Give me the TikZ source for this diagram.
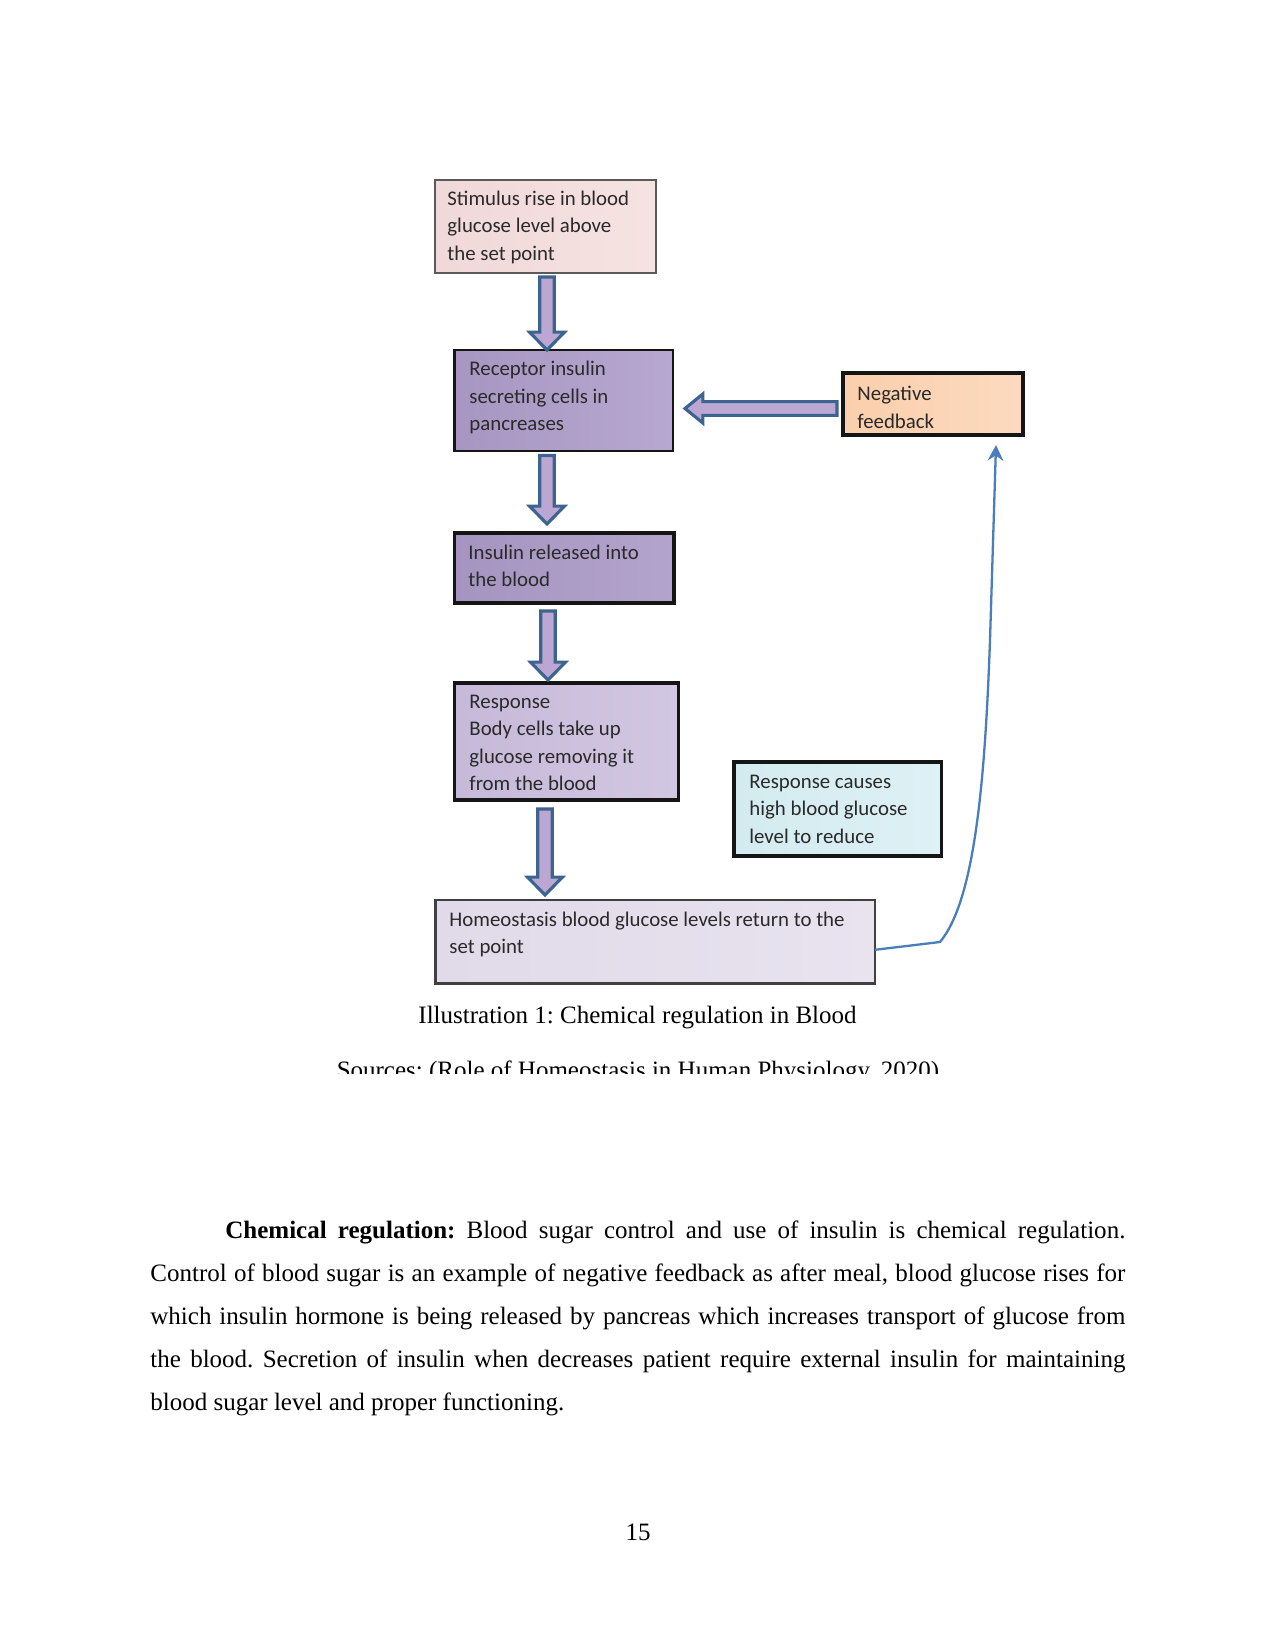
\documentclass[tikz,border=0pt]{standalone}
\usepackage{fontspec}
\setmainfont{Liberation Serif}
\newfontfamily\boxfont{Carlito}
\usetikzlibrary{calc,arrows.meta}
\frenchspacing
\definecolor{stimL}{HTML}{F0D9D8}\definecolor{stimR}{HTML}{F5E3E2}
\definecolor{recL}{HTML}{A696C1}\definecolor{recR}{HTML}{B7A8D1}
\definecolor{negL}{HTML}{FACFAC}\definecolor{negR}{HTML}{FCDABF}
\definecolor{insL}{HTML}{A494BF}\definecolor{insR}{HTML}{B3A4CD}
\definecolor{respL}{HTML}{C6B9D9}\definecolor{respR}{HTML}{D2C7E2}
\definecolor{causeL}{HTML}{D3EBF0}\definecolor{causeR}{HTML}{DEF1F5}
\definecolor{homeL}{HTML}{E1DAE9}\definecolor{homeR}{HTML}{E8E3EF}
\definecolor{arrowfill}{HTML}{BBA7D2}
\definecolor{arrowline}{HTML}{3D6491}
\definecolor{fbline}{HTML}{4A7EBB}
\definecolor{boxtext}{HTML}{2A2A2A}
\definecolor{stimdraw}{HTML}{5A5A5A}
\definecolor{homedraw}{HTML}{404040}
\definecolor{boxdraw}{HTML}{151515}
\newcommand\downblock[2]{\path[barrow] let \p1=(#1), \p2=(#2) in
  (\x1-3.5pt,\y1) -- (\x1+3.5pt,\y1) -- (\x1+3.5pt,\y2+8.6pt) -- (\x1+8.4pt,\y2+8.6pt)
  -- (\x1,\y2) -- (\x1-8.4pt,\y2+8.6pt) -- (\x1-3.5pt,\y2+8.6pt) -- cycle;}
\newcommand\leftblock[2]{\path[barrow] let \p1=(#1), \p2=(#2) in
  (\x1,\y1+3.3pt) -- (\x2+8.6pt,\y1+3.3pt) -- (\x2+8.6pt,\y1+7pt) -- (\x2,\y1)
  -- (\x2+8.6pt,\y1-7pt) -- (\x2+8.6pt,\y1-3.3pt) -- (\x1,\y1-3.3pt) -- cycle;}
\begin{document}
\begin{tikzpicture}[x=0.48pt,y=-0.48pt,
  fbox/.style={draw=boxdraw, rectangle, inner sep=0pt, outer sep=0pt},
  btext/.style={anchor=base west, align=left, inner sep=0pt,
    font=\boxfont\fontsize{10}{13.2}\selectfont, text=boxtext},
  barrow/.style={draw=arrowline, fill=arrowfill, line width=1.5pt, line join=miter},
  fbarrow/.style={draw=fbline, line width=1.1pt, -{Stealth[length=7.5pt,width=7.5pt,inset=2.5pt]}},
  serif12/.style={inner sep=0pt, font=\fontsize{12}{14}\selectfont}]
\useasboundingbox[fill=white] (0,0) rectangle (1275,1650);

% boxes
\node[fbox, draw=stimdraw, line width=1pt, left color=stimL, right color=stimR,
  minimum width=106.08pt, minimum height=44.64pt] (stim) at (545.5,226.5) {};
\node[fbox, line width=1.4pt, left color=recL, right color=recR,
  minimum width=104.88pt, minimum height=48.48pt] (rec) at (563.75,400.5) {};
\node[fbox, line width=1.8pt, left color=negL, right color=negR,
  minimum width=86.4pt, minimum height=29.76pt] (neg) at (933,404) {};
\node[fbox, line width=1.8pt, left color=insL, right color=insR,
  minimum width=105.36pt, minimum height=33.6pt] (ins) at (564.25,568) {};
\node[fbox, line width=1.5pt, left color=respL, right color=respR,
  minimum width=107.52pt, minimum height=56.16pt] (resp) at (566.5,741.5) {};
\node[fbox, line width=1.5pt, left color=causeL, right color=causeR,
  minimum width=99.6pt, minimum height=45.12pt] (cause) at (837.75,809) {};
\node[fbox, draw=homedraw, line width=1.2pt, left color=homeL, right color=homeR,
  minimum width=210.96pt, minimum height=40.13pt] (home) at (655.25,941.8) {};

% box texts (anchor = baseline of the last line)
\node[btext] (stimT) at ($(stim.north west)+(12,80.5)$) {Stimulus rise in blood\\glucose level above\\the set point};
\node[btext] (recT) at ($(rec.north west)+(14.5,81)$) {Receptor insulin\\secreting cells in\\pancreases};
\node[btext] (negT) at ($(neg.north west)+(14,55.5)$) {Negative\\feedback};
\node[btext] (insT) at ($(ins.north west)+(13.5,53.5)$) {Insulin released into\\the blood};
\node[btext] (respT) at ($(resp.north west)+(14.5,107.5)$) {Response\\Body cells take up\\glucose removing it\\from the blood};
\node[btext] (causeT) at ($(cause.north west)+(15,81)$) {Response causes\\high blood glucose\\level to reduce};
\node[btext] (homeT) at ($(home.north west)+(13.5,53.5)$) {Homeostasis blood glucose levels return to the\\set point};

% block arrows
\coordinate (col) at (547,0);
\downblock{$(stim.south -| col)+(0,4)$}{rec.north -| col}
\downblock{$(rec.south -| col)+(0,4.5)$}{$(ins.north -| col)+(0,-9)$}
\downblock{$(ins.south -| col)+(1,8)$}{$(resp.north -| col)+(1,-3)$}
\downblock{$(resp.south -| col)+(-2,9)$}{$(home.north -| col)+(-2,-5)$}
\leftblock{$(neg.west)+(-6,4.5)$}{$(rec.east)+(12,0)$}

% feedback line
\coordinate (fbtip) at ($(neg.south east)+(-27,10)$);
\draw[fbarrow] ($(home.east)+(0,8)$) -- (940,942) .. controls (975,900) and (985,780) .. (990,640) -- (fbtip);

% caption and sources
\node[serif12, anchor=base] (cap) at (637.5,1023.5) {Illustration 1: Chemical regulation in Blood};
\begin{scope}
\clip (0,0) rectangle (1275,1073);
\node[serif12, anchor=base] (src) at (638,1078) {Sources: (Role of Homeostasis in Human Physiology, 2020)};
\end{scope}

% body paragraph
\node[anchor=base west, text width=468pt, align=justify, inner sep=0pt,
  font=\fontsize{12}{20.7}\selectfont] (body) at (150,1238)
  {\hspace*{36pt}\textbf{Chemical regulation:} Blood sugar control and use of insulin is chemical regulation.\linebreak
  Control of blood sugar is an example of negative feedback as after meal, blood glucose rises for\linebreak
  which insulin hormone is being released by pancreas which increases transport of glucose from\linebreak
  the blood. Secretion of insulin when decreases patient require external insulin for maintaining\linebreak
  blood sugar level and proper functioning.};

% page number
\node[serif12, anchor=base] (pg) at (638,1540) {15};
\end{tikzpicture}
\end{document}
